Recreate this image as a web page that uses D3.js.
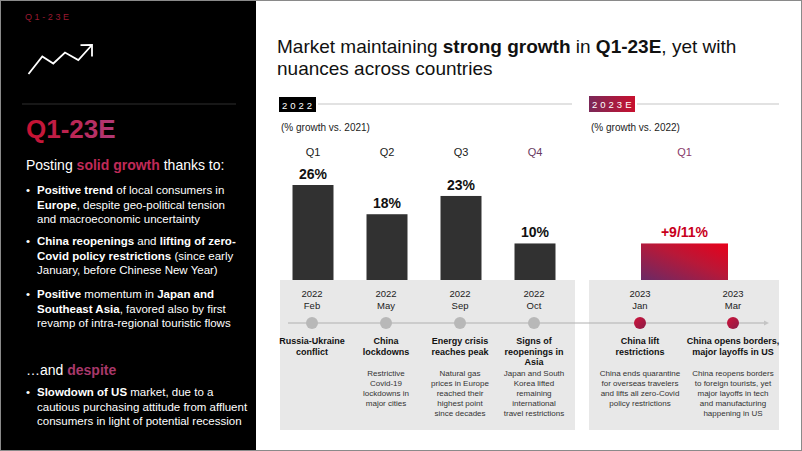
<!DOCTYPE html>
<html><head><meta charset="utf-8">
<script src="https://cdn.jsdelivr.net/npm/d3@7"></script>
<style>html,body{margin:0;padding:0;background:#fff}svg{display:block;font-family:"Liberation Sans",Arial,Helvetica,sans-serif}</style>
</head><body><div id="chart"></div>
<script>
// ---------- DATA ----------
const quarters2022 = ["Q1", "Q2", "Q3", "Q4"];
const growth2022 = [26, 18, 23, 10];
const growthLabels2022 = ["26%", "18%", "23%", "10%"];
const quarters2023 = ["Q1"];
const growth2023 = [10]; // midpoint of the +9/11% estimate
const growthLabels2023 = ["+9/11%"];

const eventYears2022 = ["2022", "2022", "2022", "2022"];
const eventMonths2022 = ["Feb", "May", "Sep", "Oct"];
const eventTitles2022 = [
  ["Russia-Ukraine", "conflict"],
  ["China", "lockdowns"],
  ["Energy crisis", "reaches peak"],
  ["Signs of", "reopenings in", "Asia"]
];
const eventDescs2022 = [
  [],
  ["Restrictive", "Covid-19", "lockdowns in", "major cities"],
  ["Natural gas", "prices in Europe", "reached their", "highest point", "since decades"],
  ["Japan and South", "Korea lifted", "remaining", "international", "travel restrictions"]
];
const eventYears2023 = ["2023", "2023"];
const eventMonths2023 = ["Jan", "Mar"];
const eventTitles2023 = [
  ["China lift", "restrictions"],
  ["China opens borders,", "major layoffs in US"]
];
const eventDescs2023 = [
  ["China ends quarantine", "for overseas travelers", "and lifts all zero-Covid", "policy restrictions"],
  ["China reopens borders", "to foreign tourists, yet", "major layoffs in tech", "and manufacturing", "happening in US"]
];

const titleLines = [
  [["Market maintaining ", 0], ["strong growth", 1], [" in ", 0], ["Q1-23E", 1], [", yet with", 0]],
  [["nuances across countries", 0]]
];
const introLine = [["Posting ", 0], ["solid growth", 1, "#c02a58"], [" thanks to:", 0]];
const bullets = [
  [[["Positive trend", 1], [" of local consumers in", 0]], [["Europe", 1], [", despite geo-political tension", 0]], [["and macroeconomic uncertainty", 0]]],
  [[["China reopenings", 1], [" and ", 0], ["lifting of zero-", 1]], [["Covid policy restrictions", 1], [" (since early", 0]], [["January, before Chinese New Year)", 0]]],
  [[["Positive", 1], [" momentum in ", 0], ["Japan and", 1]], [["Southeast Asia", 1], [", favored also by first", 0]], [["revamp of intra-regional touristic flows", 0]]]
];
const despiteLine = [["…and ", 0], ["despite", 1, "#a8386a"]];
const bulletsDespite = [
  [[["Slowdown of US", 1], [" market, due to a", 0]], [["cautious purchasing attitude from affluent", 0]], [["consumers in light of potential recession", 0]]]
];

// ---------- SETUP ----------
const W = 802, H = 451;
const svg = d3.select("#chart").append("svg").attr("width", W).attr("height", H);
const defs = svg.append("defs");

function lin(id, x1, y1, x2, y2, stops) {
  const g = defs.append("linearGradient").attr("id", id)
    .attr("x1", x1).attr("y1", y1).attr("x2", x2).attr("y2", y2);
  stops.forEach(s => g.append("stop").attr("offset", s[0]).attr("stop-color", s[1]));
}
lin("gTitle", "0%", "0%", "100%", "0%", [[0, "#c8102e"], [1, "#b03a78"]]);
lin("gBox", "0%", "0%", "100%", "0%", [[0, "#7a2858"], [1, "#c8102e"]]);
lin("gBar", "0%", "100%", "100%", "0%", [[0, "#6a2a66"], [0.55, "#b81838"], [1, "#e8001a"]]);
lin("gDot", "0%", "0%", "100%", "100%", [[0, "#d0143a"], [1, "#8a1c48"]]);

svg.append("rect").attr("width", W).attr("height", H).attr("fill", "#fff");

function rich(g, x, y, segs, size, fill, anchor) {
  const t = g.append("text").attr("x", x).attr("y", y).attr("font-size", size)
    .attr("fill", fill).attr("text-anchor", anchor || "start");
  segs.forEach(s => {
    t.append("tspan").text(s[0]).attr("font-weight", s[1] ? "bold" : "normal")
      .attr("fill", s[2] || null);
  });
  return t;
}

// ---------- LEFT PANEL ----------
const left = svg.append("g");
left.append("rect").attr("x", 0).attr("y", 0).attr("width", 256).attr("height", H).attr("fill", "#000");
left.append("text").attr("x", 25).attr("y", 20).attr("font-size", 9).attr("letter-spacing", 2.6)
  .attr("fill", "#9a1a30").text("Q1-23E");
left.append("polyline")
  .attr("points", "28.5,74 42.3,56.5 53.3,63.5 65,52.5 78.3,60 91.5,45.5")
  .attr("fill", "none").attr("stroke", "#fff").attr("stroke-width", 1.8).attr("stroke-linejoin", "miter");
left.append("polyline").attr("points", "80.5,45.2 92,45 92,56.5")
  .attr("fill", "none").attr("stroke", "#fff").attr("stroke-width", 1.8);
left.append("line").attr("x1", 22).attr("x2", 236).attr("y1", 104).attr("y2", 104)
  .attr("stroke", "#2e2e2e").attr("stroke-width", 1);
left.append("text").attr("x", 26).attr("y", 138).attr("font-size", 26).attr("font-weight", "bold")
  .attr("fill", "url(#gTitle)").text("Q1-23E");
rich(left, 26, 170, introLine, 14, "#fff");

const bulletStarts = [194, 245, 298];
bullets.forEach((b, i) => {
  left.append("text").attr("x", 26).attr("y", bulletStarts[i]).attr("font-size", 11.5).attr("fill", "#fff").text("•");
  b.forEach((line, j) => rich(left, 37, bulletStarts[i] + j * 14.5, line, 11.5, "#fff"));
});
rich(left, 26, 375, despiteLine, 14, "#fff");
bulletsDespite.forEach(b => {
  left.append("text").attr("x", 26).attr("y", 396).attr("font-size", 11.5).attr("fill", "#fff").text("•");
  b.forEach((line, j) => rich(left, 37, 396 + j * 14.5, line, 11.5, "#fff"));
});

// ---------- TITLE ----------
titleLines.forEach((l, i) => rich(svg, 277, 53 + i * 22, l, 19, "#111"));

// ---------- SCALES ----------
const baseY = 280;
const y = d3.scaleLinear().domain([0, 26]).range([baseY, 185]);
const x22 = d3.scaleBand().domain(quarters2022).range([276, 572]).paddingInner(0.446).paddingOuter(0.223);
const x23 = d3.scaleBand().domain(quarters2023).range([641, 728]);
const t23 = d3.scalePoint().domain(eventMonths2023).range([640, 733]);

// ---------- GRAY PANELS ----------
svg.append("rect").attr("x", 280).attr("y", baseY).attr("width", 295).attr("height", 150).attr("fill", "#e8e8e8");
svg.append("rect").attr("x", 589).attr("y", baseY).attr("width", 190).attr("height", 150).attr("fill", "#e8e8e8");

// ---------- HEADERS ----------
svg.append("rect").attr("x", 279).attr("y", 97).attr("width", 37).attr("height", 15).attr("fill", "#000");
svg.append("text").attr("x", 282).attr("y", 108.5).attr("font-size", 9.5).attr("letter-spacing", 3)
  .attr("fill", "#fff").text("2022");
svg.append("line").attr("x1", 318).attr("x2", 572).attr("y1", 104).attr("y2", 104).attr("stroke", "#e2e2e2").attr("stroke-width", 2);
svg.append("text").attr("x", 281).attr("y", 131).attr("font-size", 10).attr("fill", "#222").text("(% growth vs. 2021)");

svg.append("rect").attr("x", 589).attr("y", 96).attr("width", 46).attr("height", 16).attr("fill", "url(#gBox)");
svg.append("text").attr("x", 592).attr("y", 108).attr("font-size", 9.5).attr("letter-spacing", 3)
  .attr("fill", "#fff").text("2023E");
svg.append("line").attr("x1", 637).attr("x2", 779).attr("y1", 104).attr("y2", 104).attr("stroke", "#e2e2e2").attr("stroke-width", 2);
svg.append("text").attr("x", 591).attr("y", 131).attr("font-size", 10).attr("fill", "#222").text("(% growth vs. 2022)");

// ---------- BARS 2022 ----------
const g22 = svg.append("g");
g22.selectAll("text.q").data(quarters2022).join("text")
  .attr("x", d => x22(d) + x22.bandwidth() / 2).attr("y", 156)
  .attr("text-anchor", "middle").attr("font-size", 11)
  .attr("fill", (d, i) => i === 3 ? "#6a3a62" : "#222").text(d => d);
g22.selectAll("rect").data(growth2022).join("rect")
  .attr("x", (d, i) => x22(quarters2022[i])).attr("width", x22.bandwidth())
  .attr("y", d => y(d)).attr("height", d => baseY - y(d)).attr("fill", "#313131");
g22.selectAll("text.v").data(growth2022).join("text")
  .attr("x", (d, i) => x22(quarters2022[i]) + x22.bandwidth() / 2).attr("y", d => y(d) - 6)
  .attr("text-anchor", "middle").attr("font-size", 14).attr("font-weight", "bold")
  .attr("fill", "#111").text((d, i) => growthLabels2022[i]);

// ---------- BAR 2023 ----------
const g23 = svg.append("g");
g23.selectAll("text.q").data(quarters2023).join("text")
  .attr("x", d => x23(d) + x23.bandwidth() / 2).attr("y", 156)
  .attr("text-anchor", "middle").attr("font-size", 11).attr("fill", "#8a3a6a").text(d => d);
g23.selectAll("rect").data(growth2023).join("rect")
  .attr("x", (d, i) => x23(quarters2023[i])).attr("width", x23.bandwidth())
  .attr("y", d => y(d)).attr("height", d => baseY - y(d)).attr("fill", "url(#gBar)");
g23.selectAll("text.v").data(growth2023).join("text")
  .attr("x", (d, i) => x23(quarters2023[i]) + x23.bandwidth() / 2).attr("y", d => y(d) - 6)
  .attr("text-anchor", "middle").attr("font-size", 14).attr("font-weight", "bold")
  .attr("fill", "#c8001c").text((d, i) => growthLabels2023[i]);

// ---------- TIMELINE ----------
const tl = svg.append("g");
const lineY = 323;
tl.append("line").attr("x1", 288).attr("x2", 764).attr("y1", lineY).attr("y2", lineY)
  .attr("stroke", "#b0b0b0").attr("stroke-width", 1);
tl.append("path").attr("d", `M764,${lineY - 2.5}L769,${lineY}L764,${lineY + 2.5}Z`).attr("fill", "#c4c4c4");

function drawEvents(xs, years, months, titles, descs, dotFill) {
  xs.forEach((cx, i) => {
    tl.append("text").attr("x", cx).attr("y", 297).attr("text-anchor", "middle").attr("font-size", 9.5).attr("fill", "#222").text(years[i]);
    tl.append("text").attr("x", cx).attr("y", 309).attr("text-anchor", "middle").attr("font-size", 9.5).attr("fill", "#222").text(months[i]);
    tl.append("circle").attr("cx", cx).attr("cy", lineY).attr("r", 6).attr("fill", dotFill);
    titles[i].forEach((t, j) => tl.append("text").attr("x", cx).attr("y", 344 + j * 10.5)
      .attr("text-anchor", "middle").attr("font-size", 9).attr("font-weight", "bold").attr("fill", "#111").text(t));
    descs[i].forEach((t, j) => tl.append("text").attr("x", cx).attr("y", 376 + j * 10)
      .attr("text-anchor", "middle").attr("font-size", 8).attr("fill", "#333").text(t));
  });
}
drawEvents(quarters2022.map(q => x22(q) + x22.bandwidth() / 2 - 1), eventYears2022, eventMonths2022, eventTitles2022, eventDescs2022, "#b8b8b8");
drawEvents(eventMonths2023.map(m => t23(m)), eventYears2023, eventMonths2023, eventTitles2023, eventDescs2023, "url(#gDot)");

// ---------- FRAME ----------
svg.append("rect").attr("x", 0.5).attr("y", 0.5).attr("width", W - 1).attr("height", H - 1)
  .attr("fill", "none").attr("stroke", "#8a8a8a").attr("stroke-width", 1);
</script></body></html>
